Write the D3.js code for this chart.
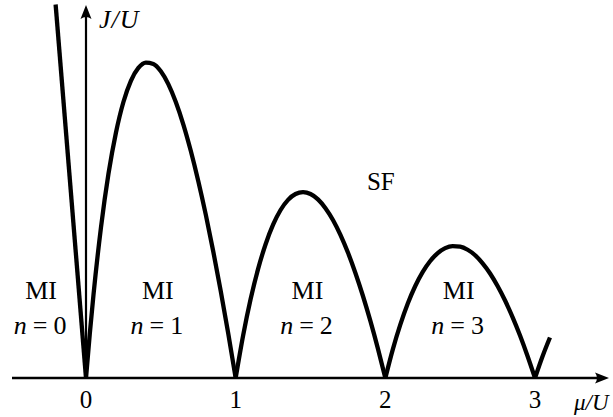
<!DOCTYPE html>
<html>
<head>
<meta charset="utf-8">
<script src="https://cdn.jsdelivr.net/npm/d3@7"></script>
<style>
  html, body { margin: 0; padding: 0; background: #fff; }
  svg { display: block; }
</style>
</head>
<body>
<svg id="chart" width="613" height="417" font-family="Liberation Serif"></svg>
<script>
// Mott-insulator lobe boundaries (mu/U, J/U) for each filling n
const lobeN0 = [[-0.203, 0.203], [0, 0]];
const lobeN1 = [[0,0],[0.025,0.0238],[0.05,0.0452],[0.1,0.0818],[0.15,0.1109],[0.2,0.1333],[0.25,0.15],[0.3,0.1615],[0.35,0.1685],[0.4,0.1714],[0.45,0.1707],[0.5,0.1667],[0.55,0.1597],[0.6,0.15],[0.65,0.1379],[0.7,0.1235],[0.75,0.1071],[0.8,0.0889],[0.85,0.0689],[0.9,0.0474],[0.95,0.0244],[1,0]];
const lobeN2 = [[1,0],[1.05,0.0232],[1.1,0.0429],[1.15,0.0593],[1.2,0.0727],[1.25,0.0833],[1.3,0.0913],[1.35,0.0968],[1.4,0.1],[1.45,0.101],[1.5,0.1],[1.55,0.0971],[1.6,0.0923],[1.65,0.0859],[1.7,0.0778],[1.75,0.0682],[1.8,0.0571],[1.85,0.0447],[1.9,0.031],[1.95,0.0161],[2,0]];
const lobeN3 = [[2,0],[2.05,0.0156],[2.1,0.029],[2.15,0.0405],[2.2,0.05],[2.25,0.0577],[2.3,0.0636],[2.35,0.0679],[2.4,0.0706],[2.45,0.0717],[2.5,0.0714],[2.55,0.0697],[2.6,0.0667],[2.65,0.0623],[2.7,0.0568],[2.75,0.05],[2.8,0.0421],[2.85,0.0331],[2.9,0.0231],[2.95,0.012],[3,0]];
const lobeN4 = [[3,0],[3.05,0.0117],[3.1,0.022]];
const lobes = [lobeN0, lobeN1, lobeN2, lobeN3, lobeN4];

const tickValues = [0, 1, 2, 3];
const tickLabels = ["0", "1", "2", "3"];

// phase labels: position in mu/U
const phaseNames = ["MI", "MI", "MI", "MI"];
const phaseFillings = ["0", "1", "2", "3"];
const phaseMu = [-0.3, 0.48, 1.48, 2.49];
const sfLabel = "SF";
const sfPos = [1.97, 0.102];

const svg = d3.select("#chart");

const x = d3.scaleLinear().domain([0, 3]).range([86, 535]);
const y = d3.scaleLinear().domain([0, 0.2]).range([378, 10]);

// axes
const axisY0 = y(0);
const xLeft = 12, xTip = 609, yTip = 5;

svg.append("line")
  .attr("x1", xLeft).attr("x2", xTip - 6)
  .attr("y1", axisY0).attr("y2", axisY0)
  .attr("stroke", "#000").attr("stroke-width", 2.4);
svg.append("line")
  .attr("x1", x(0)).attr("x2", x(0))
  .attr("y1", axisY0).attr("y2", yTip + 6)
  .attr("stroke", "#000").attr("stroke-width", 2.2);

// stealth arrowheads
function arrowHead(tx, ty, angle) {
  const p = "M0,0 L-14,-5.5 Q-10,0 -14,5.5 Z";
  svg.append("path")
    .attr("d", p)
    .attr("transform", `translate(${tx},${ty}) rotate(${angle})`)
    .attr("fill", "#000");
}
arrowHead(xTip, axisY0, 0);
arrowHead(x(0), yTip, -90);

// lobe boundaries
const line = d3.line()
  .x(d => x(d[0]))
  .y(d => y(d[1]))
  .curve(d3.curveMonotoneX);
const lineStraight = d3.line().x(d => x(d[0])).y(d => y(d[1]));

svg.selectAll("path.lobe")
  .data(lobes)
  .enter().append("path")
  .attr("class", "lobe")
  .attr("d", (d, i) => i === 0 ? lineStraight(d) : line(d))
  .attr("fill", "none")
  .attr("stroke", "#000")
  .attr("stroke-width", 4.3)
  .attr("stroke-linejoin", "miter")
  .attr("stroke-miterlimit", 20);

// tick labels
svg.selectAll("text.tick")
  .data(tickValues)
  .enter().append("text")
  .attr("class", "tick")
  .attr("x", d => x(d))
  .attr("y", 408)
  .attr("text-anchor", "middle")
  .attr("font-size", 25)
  .text((d, i) => tickLabels[i]);

// axis titles
const ty = svg.append("text").attr("x", 99).attr("y", 28).attr("font-size", 26);
ty.append("tspan").attr("font-style", "italic").text("J");
ty.append("tspan").attr("font-style", "italic").attr("dx", 1).text("/");
ty.append("tspan").attr("font-style", "italic").attr("dx", 1).text("U");

const tx = svg.append("text").attr("x", 574).attr("y", 410).attr("font-size", 23);
tx.append("tspan").attr("font-style", "italic").text("μ");
tx.append("tspan").attr("font-style", "italic").text("/");
tx.append("tspan").attr("font-style", "italic").text("U");

// phase labels
const g = svg.selectAll("g.phase")
  .data(phaseMu)
  .enter().append("g")
  .attr("class", "phase");
g.append("text")
  .attr("x", d => x(d))
  .attr("y", 299)
  .attr("text-anchor", "middle")
  .attr("font-size", 26)
  .text((d, i) => phaseNames[i]);
const nl = g.append("text")
  .attr("x", d => x(d) - 1)
  .attr("y", 334)
  .attr("text-anchor", "middle")
  .attr("font-size", 26);
nl.append("tspan").attr("font-style", "italic").text("n");
nl.append("tspan").attr("dx", 6).text("=");
nl.append("tspan").attr("dx", 6).text((d, i) => phaseFillings[i]);

svg.append("text")
  .attr("x", x(sfPos[0]))
  .attr("y", y(sfPos[1]))
  .attr("text-anchor", "middle")
  .attr("font-size", 25)
  .text(sfLabel);
</script>
</body>
</html>
